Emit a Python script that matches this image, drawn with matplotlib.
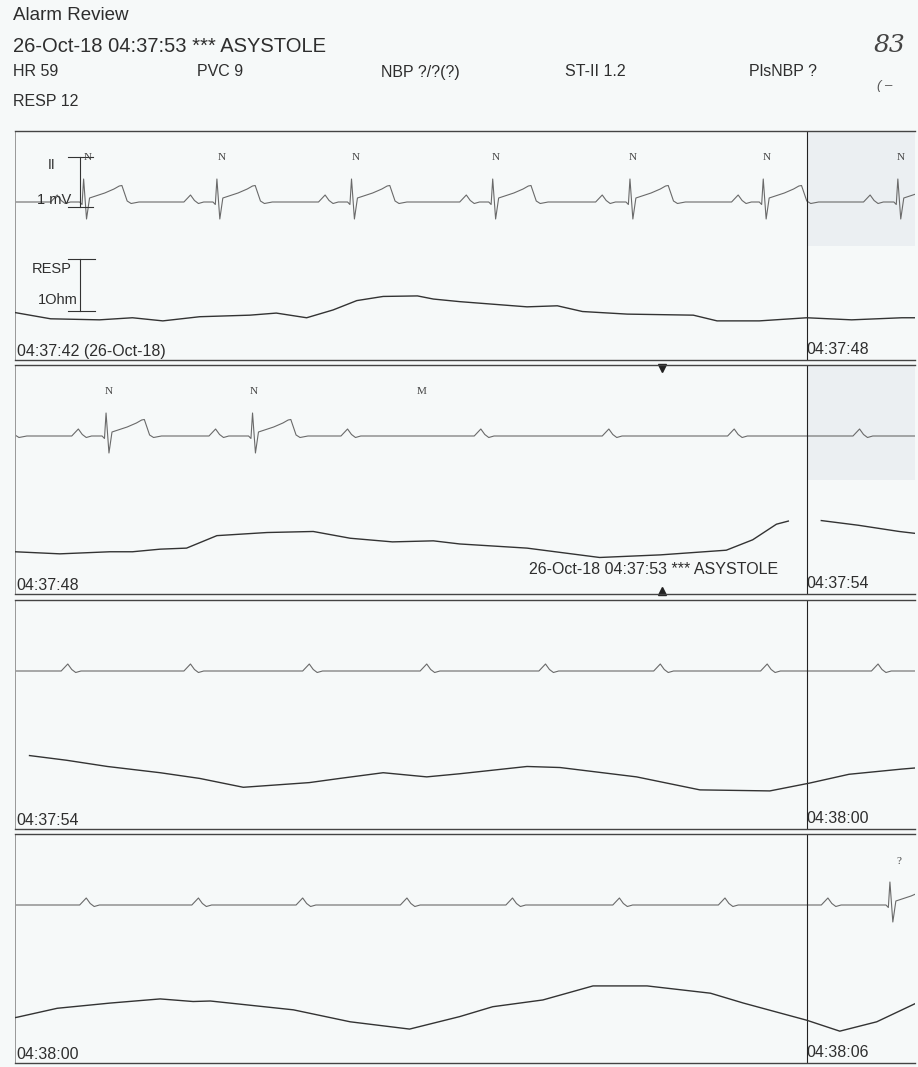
import matplotlib
matplotlib.use('Agg')
import matplotlib.pyplot as plt
import numpy as np

plt.rcParams['font.family'] = ['Liberation Sans', 'DejaVu Sans']

W, H = 918, 1067

# ---- data ----
header_title = 'Alarm Review'
alarm_line = '26-Oct-18 04:37:53 *** ASYSTOLE'
params = ['HR 59', 'PVC 9', 'NBP ?/?(?)', 'ST-II 1.2', 'PlsNBP ?']
resp_rate = 'RESP 12'

strip_start_labels = ['04:37:42 (26-Oct-18)', '04:37:48', '04:37:54', '04:38:00']
strip_end_labels = ['04:37:48', '04:37:54', '04:38:00', '04:38:06']

# seconds from 04:37:42
qrs_times = [0.52, 1.53, 2.55, 3.62, 4.66, 5.67, 6.69, 7.80, 24.63]
p_times = [0.32, 1.33, 2.35, 3.42, 4.45, 5.48, 6.48, 7.52, 8.52, 9.53,
           10.50, 11.45, 12.40, 13.33, 14.23, 15.12, 16.02, 16.89, 17.70,
           18.54, 19.39, 20.18, 20.97, 21.77, 22.58, 23.38, 24.16]
beat_label_times = [0.55, 1.57, 2.58, 3.64, 4.68, 5.70, 6.71, 7.81, 9.08, 24.70]
beat_labels = ['N', 'N', 'N', 'N', 'N', 'N', 'N', 'N', 'M', '?']

# one PQRST shape (s from R peak, mV) and one P wave
qrs_dt = [-0.03, -0.012, 0.0, 0.022, 0.045, 0.09, 0.16, 0.23, 0.27, 0.29, 0.33, 0.36, 0.42]
qrs_mv = [0.0, -0.05, 0.46, -0.34, 0.08, 0.12, 0.18, 0.26, 0.32, 0.33, 0.02, -0.03, 0.0]
p_dt = [-0.05, -0.015, 0.0, 0.03, 0.06, 0.10]
p_mv = [0.0, 0.10, 0.14, 0.03, -0.03, 0.0]

# respiration impedance (s, Ohm), NaN = gap in trace
resp_t = [0.00, 0.27, 0.64, 0.89, 1.12, 1.40, 1.78, 1.98, 2.21, 2.41, 2.59, 2.79,
          3.05, 3.17, 3.37, 3.88, 4.11, 4.30, 4.64, 5.14, 5.32, 5.64,
          6.00, 6.34, 6.72, 6.89, 7.10, 7.30, 7.53, 7.91, 8.26, 8.54, 8.86, 9.17,
          9.37, 9.88, 10.43, 10.89, 11.39, 11.59, 11.77, 11.86, 11.95,
          12.11, 12.39, 12.70, 13.10, 13.40, 13.73, 14.23, 14.46, 14.79, 15.12,
          15.37, 15.88, 16.13, 16.71, 17.19, 17.72,
          18.02, 18.32, 18.72, 19.10, 19.35, 19.48, 20.11, 20.54, 20.99, 21.37,
          21.62, 22.00, 22.38, 22.79, 23.27, 23.52, 24.00, 24.25, 24.53, 24.83]
resp_ohm = [-0.03, -0.15, -0.17, -0.13, -0.19, -0.11, -0.08, -0.04, -0.13, 0.02, 0.20, 0.28,
            0.29, 0.23, 0.18, 0.08, 0.10, -0.01, -0.06, -0.08, -0.19, -0.19,
            -0.13, -0.17, -0.13, -0.13, -0.08, -0.06, 0.18, 0.24, 0.26, 0.13, 0.06, 0.08,
            0.02, -0.06, -0.24, -0.19, -0.10, 0.10, 0.40, 0.46, np.nan,
            0.47, 0.38, 0.26, 0.14, 0.03, -0.14, -0.05, 0.03, 0.14, 0.06,
            0.12, 0.26, 0.24, 0.06, -0.19, -0.21,
            -0.06, 0.11, 0.21, 0.29, 0.24, 0.25, 0.08, -0.15, -0.29, -0.05,
            0.14, 0.27, 0.54, 0.54, 0.40, 0.21, -0.12, -0.33, -0.15, 0.21]

# ---- build ECG polyline from beat events ----
verts = [(0.0, 0.0)]
for t in p_times:
    verts += [(t + d, a) for d, a in zip(p_dt, p_mv)]
for t in qrs_times:
    verts += [(t + d, a) for d, a in zip(qrs_dt, qrs_mv)]
verts.append((25.0, 0.0))
verts.sort()
ecg_t = np.array([v[0] for v in verts])
ecg_mv = np.array([v[1] for v in verts])
resp_t = np.array(resp_t)
resp_ohm = np.array(resp_ohm)

# ---- layout ----
bg = '#f6f9f9'
ink = '#2e2e2e'
fig = plt.figure(figsize=(W / 100, H / 100), dpi=100, facecolor=bg)

def fy(y):
    return 1 - y / H

fig.text(13 / W, fy(16), header_title, fontsize=13.5, color=ink, va='center')
fig.text(13 / W, fy(46), alarm_line, fontsize=14.5, color=ink, va='center')
for i, p in enumerate(params):
    fig.text((13 + 184 * i) / W, fy(72), p, fontsize=11.5, color=ink, va='center')
fig.text(13 / W, fy(101), resp_rate, fontsize=11.5, color=ink, va='center')
fig.text(874 / W, fy(46), '83', fontsize=18, color='#444', va='center',
         family='DejaVu Serif', style='italic')
fig.text(877 / W, fy(86), '( –', fontsize=9.5, color='#555', va='center', style='italic')

strip_tops = [131, 365, 600, 834]
strip_h = 229
left, right = 15, 915
span = 6.82
mv_px = 50
ohm_px = 52
ecg_base = 71
resp_base = 180

for k, top in enumerate(strip_tops):
    ax = fig.add_axes([left / W, fy(top + strip_h), (right - left) / W, strip_h / H])
    ax.set_facecolor('none')
    ax.set_xlim(0, span)
    ax.set_ylim(ecg_base / mv_px - strip_h / mv_px, ecg_base / mv_px)
    ax.set_xticks([])
    ax.set_yticks([])
    for s in ['top', 'bottom']:
        ax.spines[s].set_color('#444')
        ax.spines[s].set_linewidth(1.0)
    ax.spines['left'].set_color('#999')
    ax.spines['left'].set_linewidth(0.7)
    ax.spines['right'].set_visible(False)

    t0 = 6.0 * k
    if k < 2:
        # greyish scan smudge over the overlap part
        ax.axvspan(6.0, span, ymin=0.5, ymax=1.0, color='#ebeff2', lw=0)
    ax.plot(ecg_t - t0, ecg_mv, color='#6a6a6a', lw=0.8)

    rax = ax.twinx()
    rax.set_ylim(resp_base / ohm_px - strip_h / ohm_px, resp_base / ohm_px)
    rax.set_xlim(0, span)
    rax.axis('off')
    rax.plot(resp_t - t0, resp_ohm, color='#333', lw=1.0)

    ax.axvline(6.0, color='#222', lw=0.8)

    for t, lab in zip(beat_label_times, beat_labels):
        if t0 <= t < t0 + span:
            ax.text(t - t0, 0.88, lab, fontsize=8, color='#444', ha='center',
                    va='center', family='Liberation Serif')

    xt = ax.get_xaxis_transform()
    ax.text(0.002, 0.035, strip_start_labels[k], transform=ax.transAxes,
            fontsize=11.5, color=ink, va='center')
    ax.text(6.0, 0.045, strip_end_labels[k], transform=xt,
            fontsize=11.5, color=ink, va='center')

    if k == 0:
        # calibration marks
        ax.plot([0.49, 0.49], [-0.1, 0.9], color='#333', lw=0.8)
        ax.plot([0.40, 0.59], [0.9, 0.9], color='#333', lw=0.8)
        ax.plot([0.40, 0.59], [-0.1, -0.1], color='#333', lw=0.8)
        ax.text(0.25, 0.74, 'II', fontsize=10, color=ink, va='center')
        ax.text(0.17, 0.03, '1 mV', fontsize=10.5, color=ink, va='center')
        rax.plot([0.49, 0.49], [0.0, 1.0], color='#333', lw=0.8)
        rax.plot([0.40, 0.61], [1.0, 1.0], color='#333', lw=0.8)
        rax.plot([0.40, 0.61], [0.0, 0.0], color='#333', lw=0.8)
        rax.text(0.13, 0.81, 'RESP', fontsize=10.5, color=ink, va='center')
        rax.text(0.17, 0.21, '1Ohm', fontsize=10.5, color=ink, va='center')

    if k == 1:
        ax.text(5.78, 0.105, alarm_line, transform=xt, fontsize=11.5,
                color=ink, ha='right', va='center')
        ax.plot([4.9], [0.985], marker='v', ms=6, color='#222', transform=xt, clip_on=False)
        ax.plot([4.9], [0.012], marker='^', ms=6, color='#222', transform=xt, clip_on=False)

fig.savefig('out.png', dpi=100, facecolor=bg)
